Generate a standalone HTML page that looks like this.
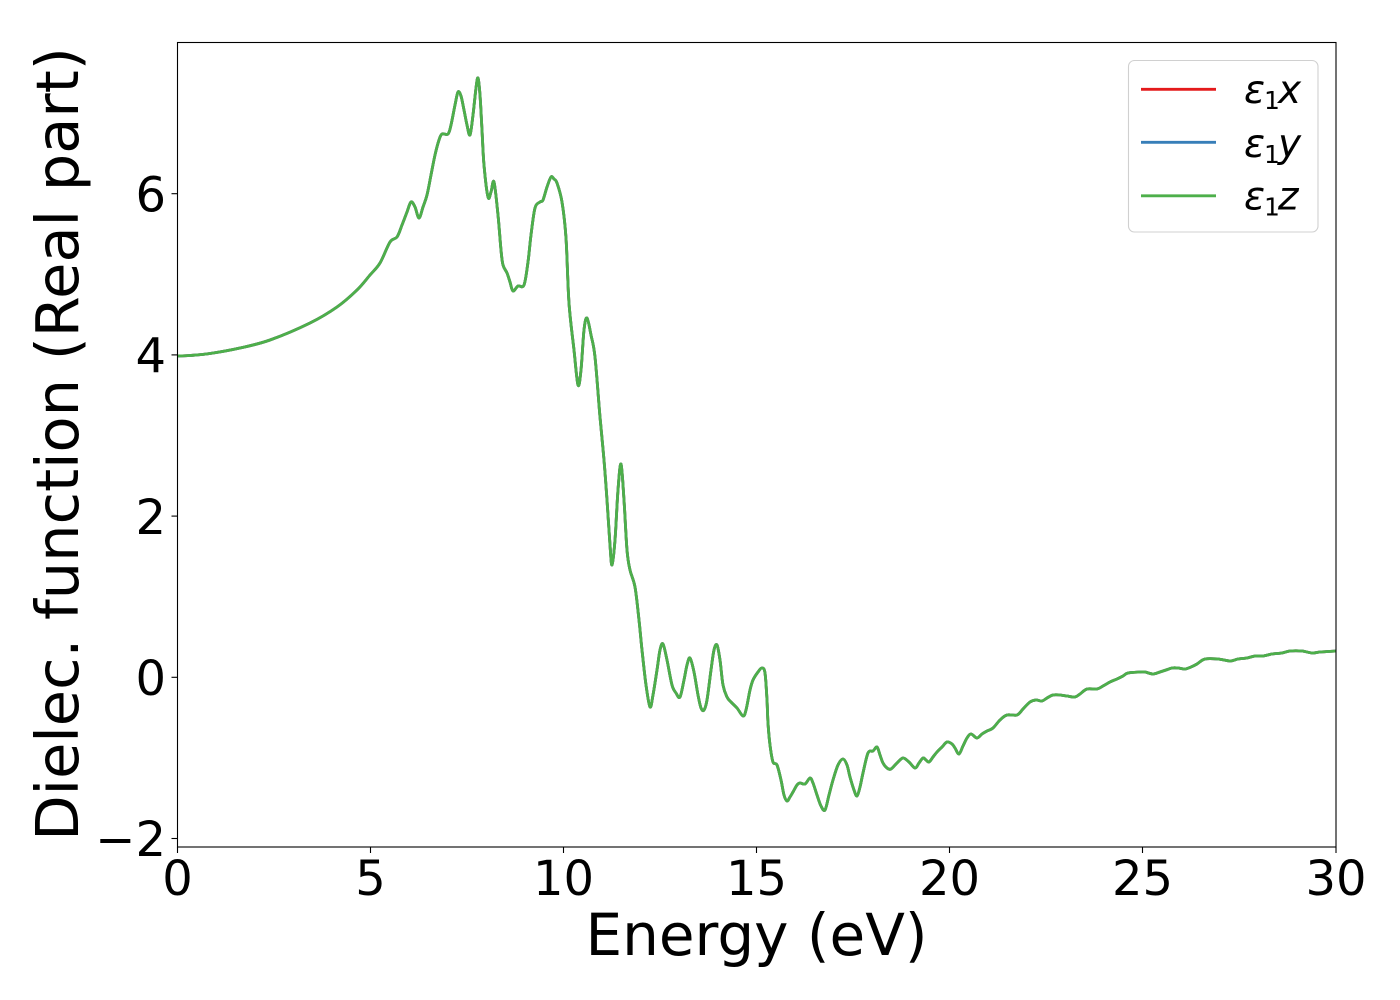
<!DOCTYPE html>
<html>
<head>
<meta charset="utf-8">
<style>
html,body{margin:0;padding:0;background:#fff;}
svg{display:block;}
text{font-family:"DejaVu Sans","Liberation Sans",sans-serif;fill:#000;}
</style>
</head>
<body>
<svg id="chart" width="1400" height="1000" viewBox="0 0 1400 1000" xmlns="http://www.w3.org/2000/svg">
<rect x="0" y="0" width="1400" height="1000" fill="#fff"/>
<defs>
<clipPath id="ax"><rect x="177" y="42" width="1159" height="805"/></clipPath>
</defs>
<g id="series" clip-path="url(#ax)" fill="none" stroke-width="2.8" stroke-linejoin="round" stroke-linecap="round">
<polyline class="ser" stroke="#e41a1c" points="177,356 190,355.5 210,353.5 240,348 270,340 310,323 337,307 357,290 370,275 380,263 390,242 397,237 402,225 407,212 411,202 415,207 419,218 423,207 427,195 431,175 435,155 439,140 442,134 448,134 451,125 455,105 458,92 461,96 464,110 467,125 470,135 473,115 476,88 478,78 480,95 482,130 484,165 488,197 491,192 494,182 498,215 501,250 503,265 507,273 510,282 513,291 518,286 524,285 528,262 531,235 535,208 540,202 543,200 547,187 551,177 554,179 557,183 562,202 566,238 569,303 574,350 578,385 581,370 584,330 587,318 591,335 595,357 600,417 604,460 607,500 610,545 612,565 615,540 618,490 621,464 624,500 627,550 630,570 635,587 639,620 642,650 646,685 650,707 653,695 657,670 660,650 663,644 667,660 672,685 676,693 680,697 684,680 687,665 690,658 694,672 698,695 701,708 704,710 707,700 711,670 714,650 717,645 720,660 723,685 727,697 731,702 737,708 743,716 746,710 750,690 753,680 758,672 762,668 765,673 767,700 768,723 770,745 773,762 777,765 781,780 784,795 787,801 790,797 793,792 797,785 800,783 805,784 810,778 813,783 817,795 821,806 825,810 829,795 833,780 838,765 843,759 847,765 850,777 854,790 857,796 860,787 863,773 868,753 873,751 877,747 880,755 883,763 887,768 891,769 897,763 903,758 909,762 915,768 919,763 923,758 926,760 929,762 933,757 937,752 942,747 947,742 952,744 955,748 959,754 963,746 967,738 971,734 977,738 982,734 987,731 993,728 1000,720 1007,715 1017,715 1023,709 1030,702 1036,700 1042,701 1047,698 1053,695 1060,695 1067,696 1075,697 1080,694 1087,689 1097,689 1103,686 1110,682 1117,679 1123,676 1128,673 1140,672 1145,672 1153,674 1160,672 1166,670 1172,668 1178,668 1185,669 1191,667 1197,664 1205,659 1218,659 1230,661 1238,659 1247,658 1255,656 1263,656 1272,654 1282,653 1290,651 1302,651 1312,653 1320,652 1336,651"/>
<polyline class="ser" stroke="#377eb8" points="177,356 190,355.5 210,353.5 240,348 270,340 310,323 337,307 357,290 370,275 380,263 390,242 397,237 402,225 407,212 411,202 415,207 419,218 423,207 427,195 431,175 435,155 439,140 442,134 448,134 451,125 455,105 458,92 461,96 464,110 467,125 470,135 473,115 476,88 478,78 480,95 482,130 484,165 488,197 491,192 494,182 498,215 501,250 503,265 507,273 510,282 513,291 518,286 524,285 528,262 531,235 535,208 540,202 543,200 547,187 551,177 554,179 557,183 562,202 566,238 569,303 574,350 578,385 581,370 584,330 587,318 591,335 595,357 600,417 604,460 607,500 610,545 612,565 615,540 618,490 621,464 624,500 627,550 630,570 635,587 639,620 642,650 646,685 650,707 653,695 657,670 660,650 663,644 667,660 672,685 676,693 680,697 684,680 687,665 690,658 694,672 698,695 701,708 704,710 707,700 711,670 714,650 717,645 720,660 723,685 727,697 731,702 737,708 743,716 746,710 750,690 753,680 758,672 762,668 765,673 767,700 768,723 770,745 773,762 777,765 781,780 784,795 787,801 790,797 793,792 797,785 800,783 805,784 810,778 813,783 817,795 821,806 825,810 829,795 833,780 838,765 843,759 847,765 850,777 854,790 857,796 860,787 863,773 868,753 873,751 877,747 880,755 883,763 887,768 891,769 897,763 903,758 909,762 915,768 919,763 923,758 926,760 929,762 933,757 937,752 942,747 947,742 952,744 955,748 959,754 963,746 967,738 971,734 977,738 982,734 987,731 993,728 1000,720 1007,715 1017,715 1023,709 1030,702 1036,700 1042,701 1047,698 1053,695 1060,695 1067,696 1075,697 1080,694 1087,689 1097,689 1103,686 1110,682 1117,679 1123,676 1128,673 1140,672 1145,672 1153,674 1160,672 1166,670 1172,668 1178,668 1185,669 1191,667 1197,664 1205,659 1218,659 1230,661 1238,659 1247,658 1255,656 1263,656 1272,654 1282,653 1290,651 1302,651 1312,653 1320,652 1336,651"/>
<polyline class="ser" stroke="#4daf4a" points="177,356 190,355.5 210,353.5 240,348 270,340 310,323 337,307 357,290 370,275 380,263 390,242 397,237 402,225 407,212 411,202 415,207 419,218 423,207 427,195 431,175 435,155 439,140 442,134 448,134 451,125 455,105 458,92 461,96 464,110 467,125 470,135 473,115 476,88 478,78 480,95 482,130 484,165 488,197 491,192 494,182 498,215 501,250 503,265 507,273 510,282 513,291 518,286 524,285 528,262 531,235 535,208 540,202 543,200 547,187 551,177 554,179 557,183 562,202 566,238 569,303 574,350 578,385 581,370 584,330 587,318 591,335 595,357 600,417 604,460 607,500 610,545 612,565 615,540 618,490 621,464 624,500 627,550 630,570 635,587 639,620 642,650 646,685 650,707 653,695 657,670 660,650 663,644 667,660 672,685 676,693 680,697 684,680 687,665 690,658 694,672 698,695 701,708 704,710 707,700 711,670 714,650 717,645 720,660 723,685 727,697 731,702 737,708 743,716 746,710 750,690 753,680 758,672 762,668 765,673 767,700 768,723 770,745 773,762 777,765 781,780 784,795 787,801 790,797 793,792 797,785 800,783 805,784 810,778 813,783 817,795 821,806 825,810 829,795 833,780 838,765 843,759 847,765 850,777 854,790 857,796 860,787 863,773 868,753 873,751 877,747 880,755 883,763 887,768 891,769 897,763 903,758 909,762 915,768 919,763 923,758 926,760 929,762 933,757 937,752 942,747 947,742 952,744 955,748 959,754 963,746 967,738 971,734 977,738 982,734 987,731 993,728 1000,720 1007,715 1017,715 1023,709 1030,702 1036,700 1042,701 1047,698 1053,695 1060,695 1067,696 1075,697 1080,694 1087,689 1097,689 1103,686 1110,682 1117,679 1123,676 1128,673 1140,672 1145,672 1153,674 1160,672 1166,670 1172,668 1178,668 1185,669 1191,667 1197,664 1205,659 1218,659 1230,661 1238,659 1247,658 1255,656 1263,656 1272,654 1282,653 1290,651 1302,651 1312,653 1320,652 1336,651"/>
</g>
<!-- axes frame -->
<rect x="177.5" y="42.5" width="1158.5" height="804.5" fill="none" stroke="#000" stroke-width="1.1"/>
<g stroke="#000" stroke-width="1.1">
<line x1="177.5" y1="847" x2="177.5" y2="853"/>
<line x1="370.5" y1="847" x2="370.5" y2="853"/>
<line x1="563.5" y1="847" x2="563.5" y2="853"/>
<line x1="756.5" y1="847" x2="756.5" y2="853"/>
<line x1="949.5" y1="847" x2="949.5" y2="853"/>
<line x1="1142.5" y1="847" x2="1142.5" y2="853"/>
<line x1="1336" y1="847" x2="1336" y2="853"/>
<line x1="171.5" y1="838.5" x2="177.5" y2="838.5"/>
<line x1="171.5" y1="677.3" x2="177.5" y2="677.3"/>
<line x1="171.5" y1="516.1" x2="177.5" y2="516.1"/>
<line x1="171.5" y1="354.9" x2="177.5" y2="354.9"/>
<line x1="171.5" y1="193.7" x2="177.5" y2="193.7"/>
</g>
<g font-size="48" text-anchor="middle">
<text x="177.5" y="895">0</text>
<text x="370.5" y="895">5</text>
<text x="563.5" y="895">10</text>
<text x="756.5" y="895">15</text>
<text x="949.5" y="895">20</text>
<text x="1142.5" y="895">25</text>
<text x="1336" y="895">30</text>
</g>
<g font-size="48" text-anchor="end">
<text x="166" y="856">−2</text>
<text x="166" y="695">0</text>
<text x="166" y="534">2</text>
<text x="166" y="372.5">4</text>
<text x="166" y="211.5">6</text>
</g>
<text x="756.5" y="955" font-size="58" text-anchor="middle">Energy (eV)</text>
<text transform="translate(78,444) rotate(-90)" font-size="59" text-anchor="middle">Dielec. function (Real part)</text>
<!-- legend -->
<rect x="1128.5" y="60.5" width="189.5" height="171.5" rx="6" ry="6" fill="#fff" fill-opacity="0.8" stroke="#d0d0d0" stroke-width="1.1"/>
<g stroke-width="2.8">
<line x1="1141" y1="89.3" x2="1216" y2="89.3" stroke="#e41a1c"/>
<line x1="1141" y1="142.3" x2="1216" y2="142.3" stroke="#377eb8"/>
<line x1="1141" y1="195.8" x2="1216" y2="195.8" stroke="#4daf4a"/>
</g>
<g font-size="39">
<text x="1244" y="103" font-style="italic">ε</text><text x="1264" y="109" font-size="25">1</text><text x="1278" y="103" font-style="italic">x</text>
<text x="1244" y="157" font-style="italic">ε</text><text x="1264" y="163" font-size="25">1</text><text x="1278" y="157" font-style="italic">y</text>
<text x="1244" y="209.5" font-style="italic">ε</text><text x="1264" y="215.5" font-size="25">1</text><text x="1278" y="209.5" font-style="italic">z</text>
</g>
</svg>
<script>
(function(){
  try{
    var NS="http://www.w3.org/2000/svg";
    var pls=document.querySelectorAll("polyline.ser");
    for(var k=0;k<pls.length;k++){
      var pl=pls[k];
      var raw=pl.getAttribute("points").trim().split(/\s+/);
      var p=[];
      for(var i=0;i<raw.length;i++){var c=raw[i].split(",");p.push([+c[0],+c[1]]);}
      var d="M"+p[0][0]+","+p[0][1];
      for(var i=0;i<p.length-1;i++){
        var p0=p[i>0?i-1:i],p1=p[i],p2=p[i+1],p3=p[i+2<p.length?i+2:i+1];
        var t=1/6;
        var c1x=p1[0]+(p2[0]-p0[0])*t,c1y=p1[1]+(p2[1]-p0[1])*t;
        var c2x=p2[0]-(p3[0]-p1[0])*t,c2y=p2[1]-(p3[1]-p1[1])*t;
        d+=" C"+c1x.toFixed(2)+","+c1y.toFixed(2)+" "+c2x.toFixed(2)+","+c2y.toFixed(2)+" "+p2[0]+","+p2[1];
      }
      var path=document.createElementNS(NS,"path");
      path.setAttribute("d",d);
      path.setAttribute("stroke",pl.getAttribute("stroke"));
      pl.parentNode.insertBefore(path,pl);
      pl.setAttribute("display","none");
    }
  }catch(e){}
})();
</script>
</body>
</html>
